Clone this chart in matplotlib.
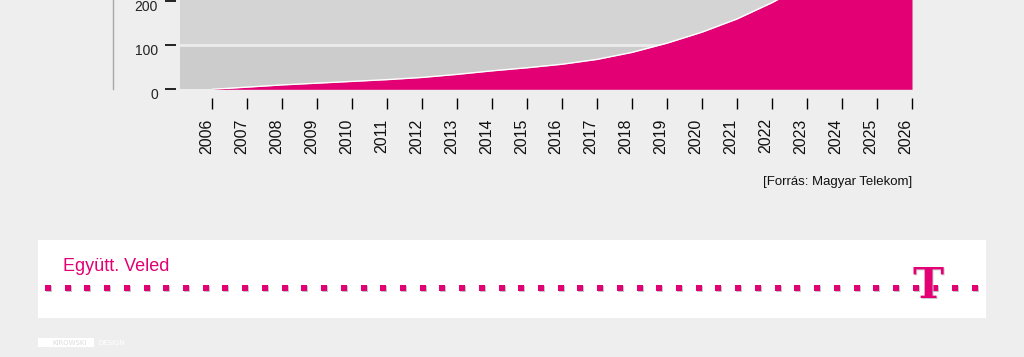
import numpy as np
import matplotlib.pyplot as plt
from matplotlib.patches import Rectangle
from matplotlib.lines import Line2D
from matplotlib.transforms import ScaledTranslation

# adatok (a grafikon teteje le van vágva, 200 fölötti értékek becsültek)
years = list(range(2006, 2027))
values = [0, 5, 10, 14, 18, 22, 27, 34, 42, 49, 57, 68, 84, 105, 130, 160, 197,
          240, 290, 350, 420]
ytick_vals = [0, 100, 200]
source_text = "[Forrás: Magyar Telekom]"
slogan = "Együtt. Veled"

MAGENTA = "#e20074"
SANS = ["Liberation Sans", "DejaVu Sans"]
W, H = 1024, 357

fig = plt.figure(figsize=(W / 100, H / 100), dpi=100, facecolor="#eeeeee")

# fő grafikon
ax = fig.add_axes([180 / W, (H - 89.3) / H, 732 / W, 89.3 / H])
ax.set_xlim(2006 + (180 - 212.5) / 35, 2026)
ax.set_ylim(0, 89.3 / 0.44)
ax.set_facecolor("#cfcfcf")
ax.axhspan(0, 100, color="#cccccc", zorder=0)
ax.axhspan(100, 300, color="#d4d4d4", zorder=0)
ax.axhline(100, color="#ececec", lw=2, zorder=1)

ax.fill_between(years, values, 0, color=MAGENTA, lw=0, zorder=2)
ax.plot(years, values, color="white", lw=1.0, zorder=3)

for s in ax.spines.values():
    s.set_visible(False)
ax.spines["left"].set_position(("outward", 3))
ax.spines["bottom"].set_position(("outward", 6))

ax.set_yticks(ytick_vals)
ax.tick_params(axis="y", direction="out", length=8, width=1.2, color="black",
               labelleft=False)
ax.set_xticks(years)
ax.tick_params(axis="x", direction="out", length=8, width=1, color="black",
               labelbottom=False)

px = fig.dpi_scale_trans
for v in ytick_vals:
    ax.text(-0.030, v, str(v), transform=ax.get_yaxis_transform()
            + ScaledTranslation(0, -6 / 100, px),
            ha="right", va="center", fontsize=10, family=SANS, color="#222222")

for yr in years:
    ax.text(yr, 0, str(yr), transform=ax.get_xaxis_transform()
            + ScaledTranslation(-6 / 100, -29 / 100, px),
            rotation=90, ha="center", va="top", fontsize=11.5,
            family=SANS, color="#111111")

# bal oldali szürke vonal
fig.add_artist(Line2D([113 / W, 113 / W], [1, (H - 89) / H],
                      transform=fig.transFigure, color="#a8a8a8", lw=1))

fig.text(912 / W, (H - 182) / H, source_text, ha="right", va="center",
         fontsize=9.5, family=SANS, color="#111111")

# alsó sáv
ov = fig.add_axes([0, 0, 1, 1])
ov.set_xlim(0, W)
ov.set_ylim(H, 0)
ov.axis("off")
ov.patch.set_alpha(0)

ov.add_patch(Rectangle((38, 240), 948, 78, color="white", lw=0, zorder=0))

dots_x = np.arange(48, 980, 19.72)
ov.scatter(dots_x + 1, np.full(len(dots_x), 289), marker="s", s=19,
           color="#c4c4c4", lw=0, zorder=1)
ov.scatter(dots_x, np.full(len(dots_x), 288), marker="s", s=19,
           color=MAGENTA, lw=0, zorder=2)

ov.text(929, 287, "T", ha="center", va="center", fontsize=30,
        family="DejaVu Serif", weight="bold", color="#cccccc", zorder=3)
ov.text(928, 286, "T", ha="center", va="center", fontsize=30,
        family="DejaVu Serif", weight="bold", color=MAGENTA, zorder=4)

ov.text(63, 271, slogan, ha="left", va="baseline", fontsize=13,
        family=SANS, color=MAGENTA)

ov.add_patch(Rectangle((38, 338), 56, 9, color="white", lw=0))
ov.text(52, 343, "KIROWSKI", ha="left", va="center", fontsize=5,
        family="DejaVu Sans", color="#dcdcdc")
ov.text(98, 343, "DESIGN", ha="left", va="center", fontsize=5,
        family="DejaVu Sans", color="white")

fig.savefig("out.png", dpi=100, facecolor=fig.get_facecolor())
